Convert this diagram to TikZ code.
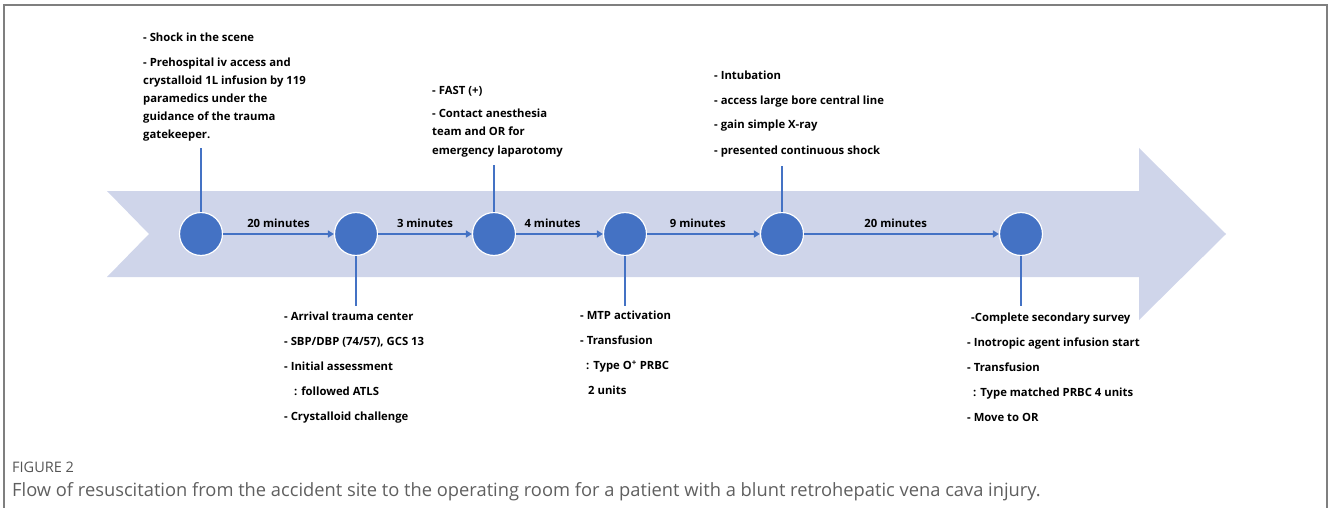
\documentclass[tikz,border=0pt]{standalone}
\usepackage{fontspec}
\setmainfont{Open Sans}
\newfontfamily\capfont{Open Sans}
\usetikzlibrary{arrows.meta, positioning}

\definecolor{bandfill}{HTML}{CFD5EA}
\definecolor{dotblue}{HTML}{4472C4}
\definecolor{framegray}{HTML}{7F7F7F}
\definecolor{capgray}{HTML}{5F5F5F}

\begin{document}
\begin{tikzpicture}[x=1pt, y=-1pt,
  font=\fontsize{11.3}{18}\selectfont\bfseries, >={Triangle[length=6pt, width=7pt]},
  dot/.style={circle, fill=dotblue, draw=white, line width=1.2pt,
              minimum size=43pt, inner sep=0pt},
  flow/.style={->, draw=dotblue, line width=1.8pt},
  stem/.style={draw=dotblue, line width=1.4pt},
  mins/.style={above=4pt, inner sep=1pt},
  notes/.style={align=left, anchor=base west, inner sep=0pt},
]
  \useasboundingbox (0,0) rectangle (1328,508);
  \draw[framegray, line width=1.3pt] (4,508) -- (4,5) -- (1327,5) -- (1327,508);

  % timeline band
  \fill[bandfill] (107,191) -- (1139,191) -- (1139,148) -- (1226,234)
    -- (1139,320) -- (1139,277) -- (107,277) -- (149,234) -- cycle;

  \node[dot] (c1) at (201,234) {};
  \node[dot] (c2) at (356,234) {};
  \node[dot] (c3) at (494,234) {};
  \node[dot] (c4) at (625,234) {};
  \node[dot] (c5) at (782,234) {};
  \node[dot] (c6) at (1021,234) {};

  \draw[flow] (c1) -- node[mins] {20 minutes} (c2);
  \draw[flow] (c2) -- node[mins] {3 minutes} (c3);
  \draw[flow] (c3) -- node[mins, pos=0.42] {4 minutes} (c4);
  \draw[flow] (c4) -- node[mins, pos=0.45] {9 minutes} (c5);
  \draw[flow] (c5) -- node[mins, pos=0.47] {20 minutes} (c6);

  \coordinate (t1) at (201,148);
  \coordinate (t3) at (494,165);
  \coordinate (t5) at (782,166);
  \coordinate (b2) at (356,306);
  \coordinate (b4) at (625,306);
  \coordinate (b6) at (1021,306);
  \draw[stem] (c1) -- (t1); \draw[stem] (c3) -- (t3); \draw[stem] (c5) -- (t5);
  \draw[stem] (c2) -- (b2); \draw[stem] (c4) -- (b4); \draw[stem] (c6) -- (b6);

  % notes, anchored at the baseline of their last line
  \node[notes] (n1) at (143,139) {- Shock in the scene\\[7pt]
    - Prehospital iv access and\\ crystalloid 1L infusion by 119\\
    paramedics under the\\ guidance of the trauma\\ gatekeeper.};
  \node[notes] (n3) at (432,154) {- FAST (+)\\[6pt]
    - Contact anesthesia\\ team and OR for\\ emergency laparotomy};
  \node[notes] (n5) at (714,154) {- Intubation\\[7pt]
    - access large bore central line\\[7pt]
    - gain simple X-ray\\[7pt]
    - presented continuous shock};

  \node[notes] (n2) at (284,420) {- Arrival trauma center\\[7pt]
    - SBP/DBP (74/57), GCS 13\\[7pt]
    - Initial assessment\\[7pt]
    \hspace*{10pt}: followed ATLS\\[7pt]
    - Crystalloid challenge};
  \node[notes] (n4) at (580,394) {- MTP activation\\[7pt]
    - Transfusion\\[7pt]
    \hspace*{6pt}: Type O\textsuperscript{+} PRBC\\[7pt]
    \hspace*{8pt}2 units};
  \node[notes] (n6) at (967,421) {\hspace*{4pt}-Complete secondary survey\\[7pt]
    - Inotropic agent infusion start\\[7pt]
    - Transfusion\\[7pt]
    \hspace*{6pt}: Type matched PRBC 4 units\\[7pt]
    - Move to OR};

  \node[anchor=base west, inner sep=0pt, text=capgray!90!black,
        font=\capfont\fontsize{14.5}{16}\selectfont\mdseries] (fig) at (12,472) {FIGURE 2};
  \node[anchor=base west, inner sep=0pt, text=capgray,
        font=\capfont\fontsize{18.3}{20}\selectfont\mdseries] (cap) at (12,496)
    {Flow of resuscitation from the accident site to the operating room for a patient with a blunt retrohepatic vena cava injury.};
\end{tikzpicture}
\end{document}
